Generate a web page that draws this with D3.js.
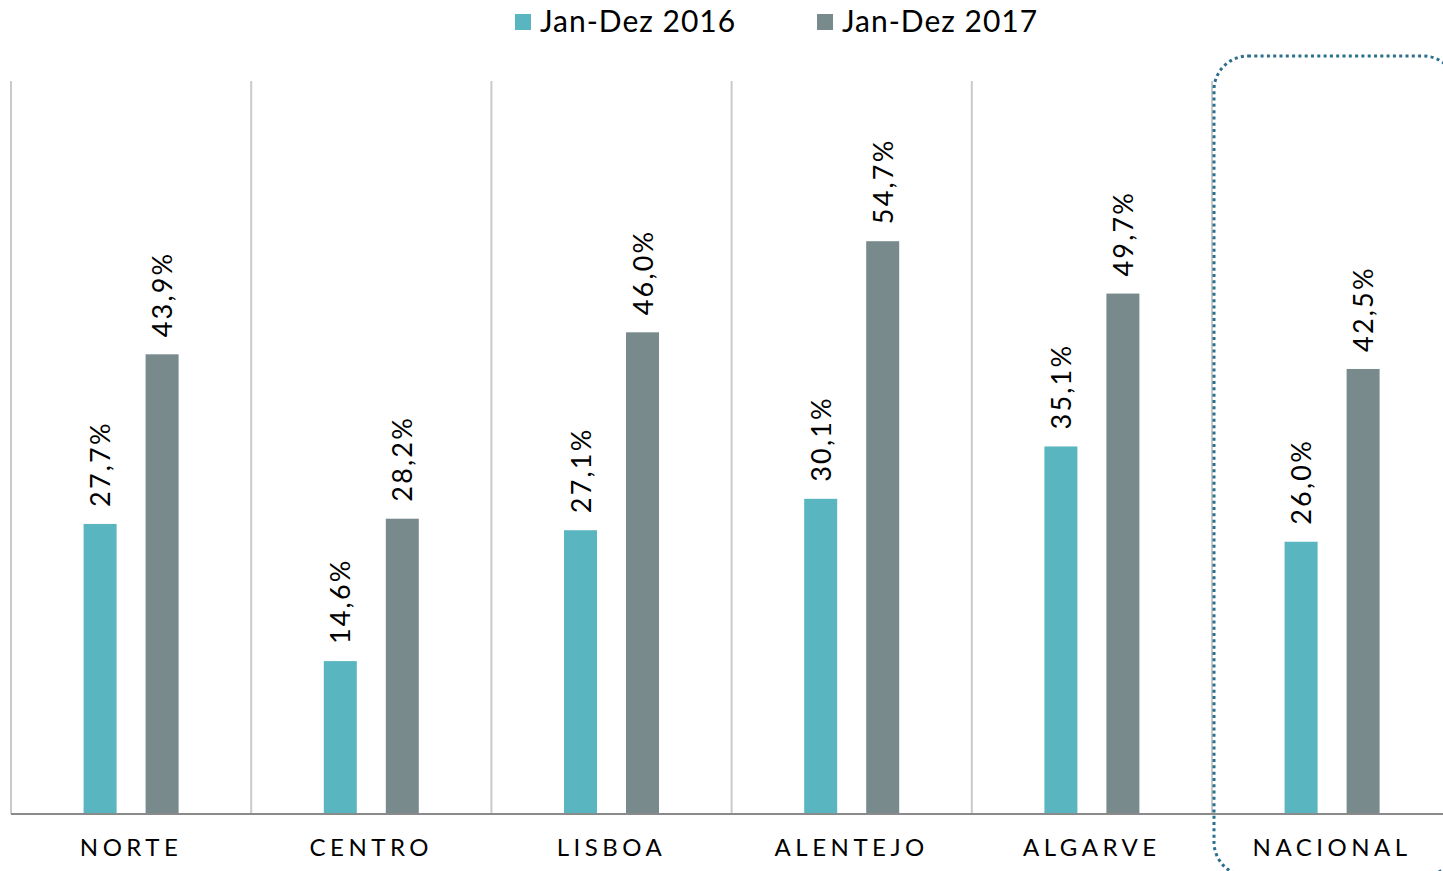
<!DOCTYPE html>
<html>
<head>
<meta charset="utf-8">
<script src="https://cdn.jsdelivr.net/npm/d3@7"></script>
<style>
  body { margin: 0; background: #fff; }
  svg { display: block; font-family: "Century Gothic", Lato, "DejaVu Sans", sans-serif; }
</style>
</head>
<body>
<svg id="chart"></svg>
<script>
const categories = ["NORTE", "CENTRO", "LISBOA", "ALENTEJO", "ALGARVE", "NACIONAL"];
const seriesNames = ["Jan-Dez 2016", "Jan-Dez 2017"];
const values2016 = [27.7, 14.6, 27.1, 30.1, 35.1, 26.0];
const values2017 = [43.9, 28.2, 46.0, 54.7, 49.7, 42.5];
const colors = ["#59b5bf", "#798a8c"];

const width = 1443, height = 871;
const margin = { top: 81, left: 11, bottom: 57 };
const bandW = 240.2;

const svg = d3.select("#chart")
    .attr("width", width)
    .attr("height", height)
;

const x = d3.scaleBand()
    .domain(categories)
    .range([margin.left, margin.left + bandW * categories.length])
    .paddingInner(0)
;

const y = d3.scaleLinear()
    .domain([0, 70])
    .range([height - margin.bottom, margin.top])
;

const sub = d3.scaleOrdinal()
    .domain(seriesNames)
    .range([-31, 31])
;

const fmt = v => v.toFixed(1).replace(".", ",") + "%";

// separators between regions
svg.append("g")
    .selectAll("line")
    .data(categories)
    .enter().append("line")
    .attr("x1", d => x(d))
    .attr("x2", d => x(d))
    .attr("y1", y(70))
    .attr("y2", y(0))
    .attr("stroke", "#cacaca")
    .attr("stroke-width", 2)
;

const rows = categories.map((c, i) => ({ cat: c, vals: [values2016[i], values2017[i]] }));

const groups = svg.append("g")
    .selectAll("g")
    .data(rows)
    .enter().append("g")
    .attr("transform", d => `translate(${x(d.cat) + x.bandwidth() / 2},0)`)
;

const bars = groups.selectAll("g")
    .data(d => d.vals.map((v, j) => ({ v: v, s: seriesNames[j], j: j })))
    .enter().append("g")
;

bars.append("rect")
    .attr("x", d => sub(d.s) - 16.5)
    .attr("width", 33)
    .attr("y", d => y(d.v))
    .attr("height", d => y(0) - y(d.v))
    .attr("fill", d => colors[d.j])
;

bars.append("text")
    .attr("transform", d => `translate(${sub(d.s) + 10},${y(d.v) - 17}) rotate(-90)`)
    .attr("font-size", 27)
    .attr("letter-spacing", 2.2)
    .attr("fill", "#000")
    .text(d => fmt(d.v))
;

// x axis baseline
const xAxis = svg.append("g")
    .attr("transform", `translate(0,${y(0)})`)
    .call(d3.axisBottom(x).tickSize(0).tickPadding(0))
;
xAxis.select(".domain")
    .attr("d", `M${margin.left},0H${width}`)
    .attr("stroke", "#8a8a8a")
    .attr("stroke-width", 2)
;
xAxis.selectAll(".tick text")
    .attr("dy", 0)
    .attr("y", 42)
    .attr("font-size", 24)
    .attr("font-family", "\"Century Gothic\", Lato, \"DejaVu Sans\", sans-serif")
    .attr("letter-spacing", 4.5)
    .attr("fill", "#000")
;

// dotted highlight around NACIONAL
const nx = x("NACIONAL") + 2;
svg.append("rect")
    .attr("x", nx)
    .attr("y", 56)
    .attr("width", 243)
    .attr("height", 820)
    .attr("rx", 34)
    .attr("fill", "none")
    .attr("stroke", "#2a6f8c")
    .attr("stroke-width", 3)
    .attr("stroke-dasharray", "3,3.3")
;

// legend
const legend = svg.append("g")
    .selectAll("g")
    .data(seriesNames)
    .enter().append("g")
    .attr("transform", (d, i) => `translate(${[515, 817][i]},0)`)
;
legend.append("rect")
    .attr("y", 14)
    .attr("width", 16)
    .attr("height", 16)
    .attr("fill", (d, i) => colors[i])
;
legend.append("text")
    .attr("x", 25)
    .attr("y", 32)
    .attr("font-size", 30)
    .attr("letter-spacing", 1)
    .attr("fill", "#000")
    .text(d => d)
;
</script>
</body>
</html>
